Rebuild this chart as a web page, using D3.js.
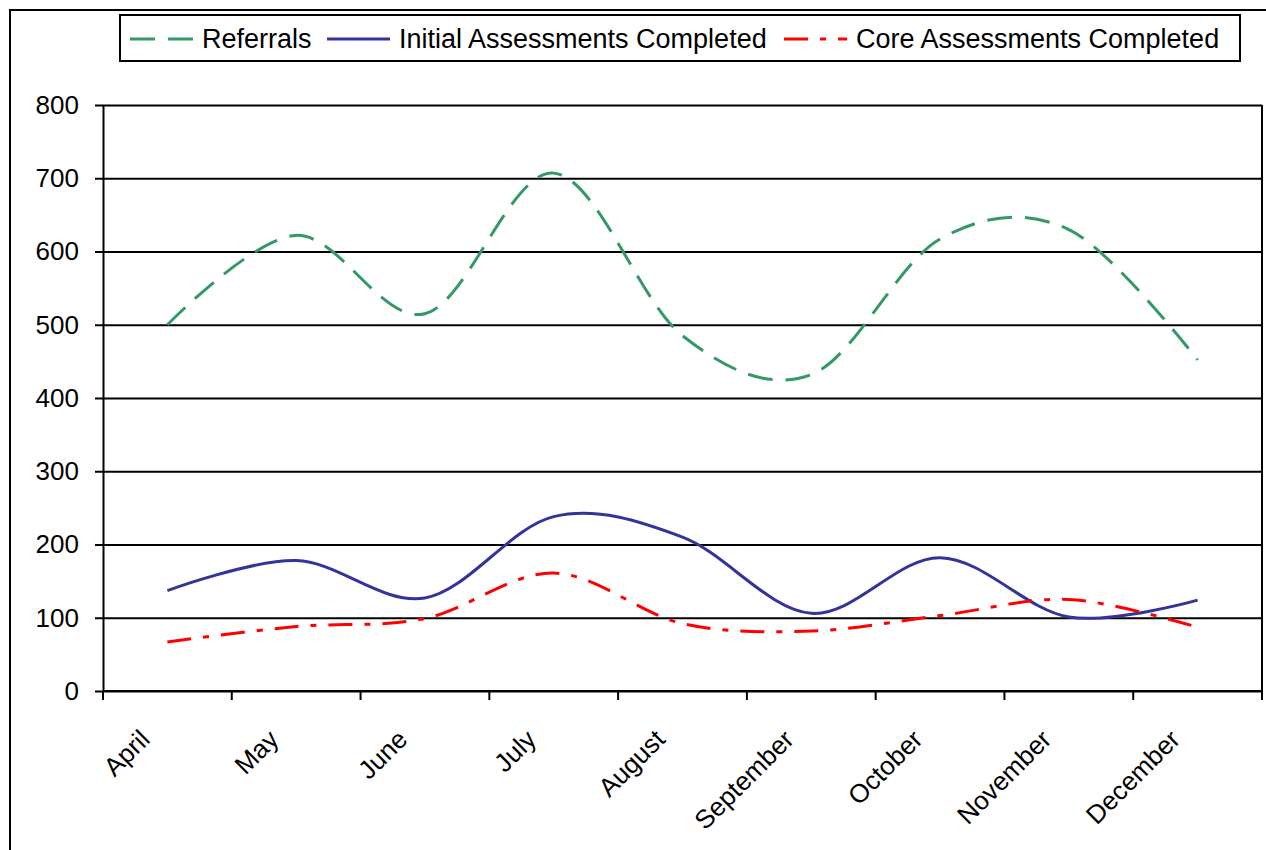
<!DOCTYPE html>
<html>
<head>
<meta charset="utf-8">
<script src="https://cdn.jsdelivr.net/npm/d3@7"></script>
<style>
    body { margin: 0; background: #fff; }
    svg { display: block; font-family: "Liberation Sans", Arial, sans-serif; }
    .axis path, .axis line { stroke: #000; stroke-width: 2; }
    .axis text { fill: #000; font-size: 26px; }
    .grid line { stroke: #000; stroke-width: 2; }
    .grid path { display: none; }
</style>
</head>
<body>
<div id="chart"></div>
<script>
const months = ["April", "May", "June", "July", "August", "September", "October", "November", "December"];
const referrals = [500, 622, 515, 707, 485, 432, 617, 630, 452];
const initialAssessments = [137, 178, 127, 238, 210, 106, 182, 101, 124];
const coreAssessments = [67, 88, 99, 161, 92, 82, 103, 125, 87];
const yTicks = [0, 100, 200, 300, 400, 500, 600, 700, 800];

const series = [
    { name: "Referrals", values: referrals, color: "#339966", dash: "25,13" },
    { name: "Initial Assessments Completed", values: initialAssessments, color: "#333399", dash: null },
    { name: "Core Assessments Completed", values: coreAssessments, color: "#ff0000", dash: "24,12,6,12" }
];

const plot = { left: 103, right: 1262, top: 105, bottom: 691 };

const svg = d3.select("#chart")
    .append("svg")
    .attr("width", 1266)
    .attr("height", 850);

// outer chart frame
svg.append("rect")
    .attr("x", 10)
    .attr("y", 10)
    .attr("width", 1270)
    .attr("height", 860)
    .attr("fill", "none")
    .attr("stroke", "#000")
    .attr("stroke-width", 2);

const x = d3.scaleBand()
    .domain(months)
    .range([plot.left, plot.right])
    .padding(0);

const y = d3.scaleLinear()
    .domain([0, 800])
    .range([plot.bottom, plot.top]);

const cx = m => x(m) + x.bandwidth() / 2;

// gridlines
svg.append("g")
    .attr("class", "grid")
    .attr("transform", `translate(${plot.left},0)`)
    .call(d3.axisLeft(y).tickValues(yTicks).tickSize(-(plot.right - plot.left)).tickFormat(""));

// right border of plot area
svg.append("line")
    .attr("x1", plot.right)
    .attr("x2", plot.right)
    .attr("y1", plot.top)
    .attr("y2", plot.bottom)
    .attr("stroke", "#000")
    .attr("stroke-width", 2);

// y axis
svg.append("g")
    .attr("class", "axis")
    .attr("transform", `translate(${plot.left},0)`)
    .call(d3.axisLeft(y).tickValues(yTicks).tickSize(8).tickPadding(16).tickSizeOuter(0));

// x axis: ticks between categories
const xAxis = svg.append("g").attr("class", "axis");
xAxis.append("line")
    .attr("x1", plot.left)
    .attr("x2", plot.right)
    .attr("y1", plot.bottom)
    .attr("y2", plot.bottom);

const tickPos = months.map(m => x(m)).concat([x.range()[1]]);
xAxis.selectAll(".xtick")
    .data(tickPos)
    .enter()
    .append("line")
    .attr("x1", d => d)
    .attr("x2", d => d)
    .attr("y1", plot.bottom)
    .attr("y2", plot.bottom + 9);

xAxis.selectAll(".xlabel")
    .data(months)
    .enter()
    .append("text")
    .attr("text-anchor", "end")
    .attr("transform", d => `translate(${cx(d) - 16},${plot.bottom + 50}) rotate(-45)`)
    .text(d => d);

// lines
const line = d3.line()
    .x((d, i) => cx(months[i]))
    .y(d => y(d))
    .curve(d3.curveCardinal.tension(0));

series.forEach(s => {
    svg.append("path")
        .datum(s.values)
        .attr("fill", "none")
        .attr("stroke", s.color)
        .attr("stroke-width", 3)
        .attr("stroke-dasharray", s.dash)
        .attr("d", line);
});

// legend
const legend = svg.append("g").attr("class", "legend");
legend.append("rect")
    .attr("x", 120)
    .attr("y", 15)
    .attr("width", 1120)
    .attr("height", 46)
    .attr("fill", "#fff")
    .attr("stroke", "#000")
    .attr("stroke-width", 2);

const legendX = [130, 327, 784];
series.forEach((s, i) => {
    legend.append("line")
        .attr("x1", legendX[i])
        .attr("x2", legendX[i] + 63)
        .attr("y1", 39)
        .attr("y2", 39)
        .attr("stroke", s.color)
        .attr("stroke-width", 3)
        .attr("stroke-dasharray", s.dash);
    legend.append("text")
        .attr("x", legendX[i] + 72)
        .attr("y", 48)
        .style("font-size", "27px")
        .text(s.name);
});
</script>
</body>
</html>
